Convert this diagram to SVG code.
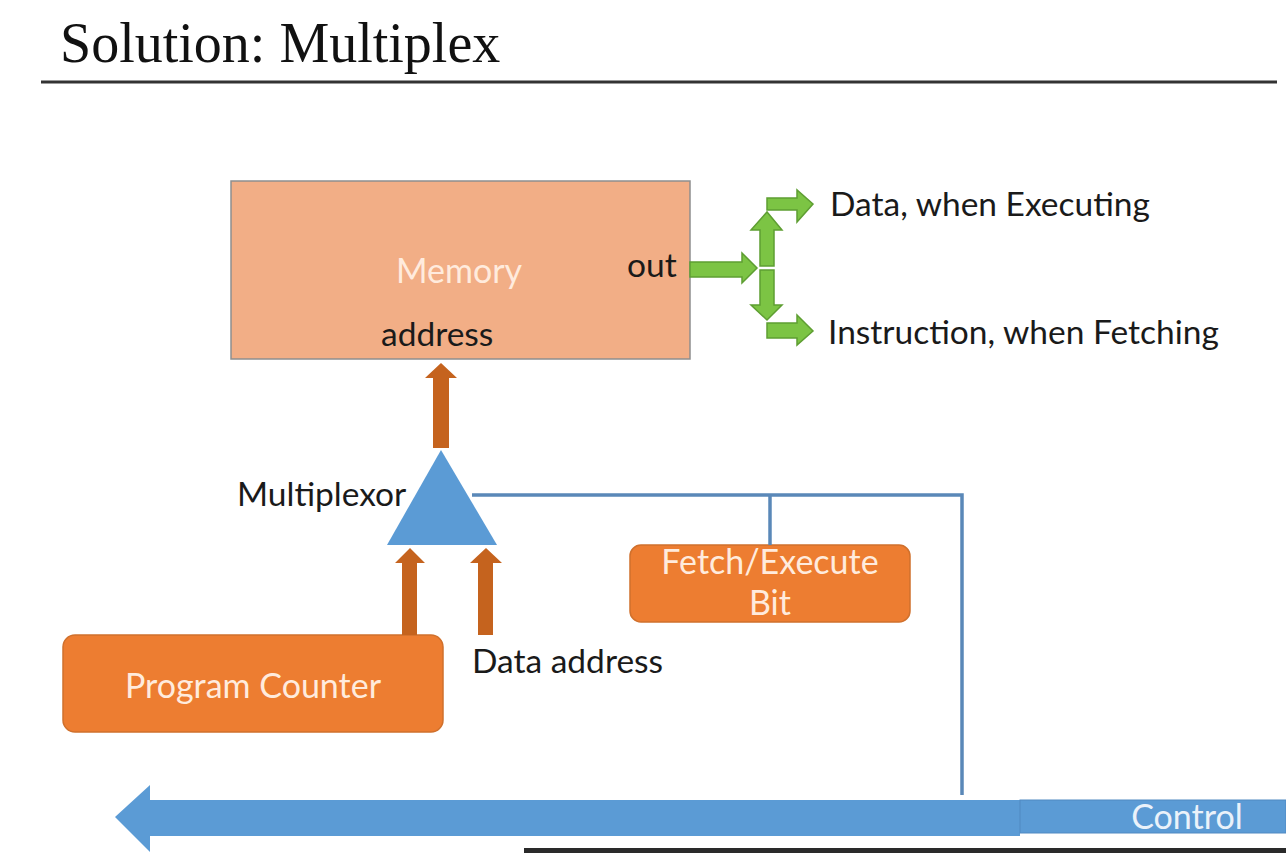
<svg xmlns="http://www.w3.org/2000/svg" width="1286" height="853" viewBox="0 0 1286 853">
<style>
.lbl{font-family:Lato,"Open Sans","Liberation Sans",sans-serif;font-size:33.5px;fill:#1a1a1a}
.wl{font-family:Lato,"Open Sans","Liberation Sans",sans-serif;font-size:34px;fill:#FFEBDD}
.obox{fill:#ED7D31;stroke:#D0702C;stroke-width:1.5}
.oarr{fill:#C5631E}
.garr{fill:#7CC444;stroke:#5E9E32;stroke-width:1.5}
.wire{fill:none;stroke:#5A88B8;stroke-width:3.5}
</style>
<rect width="1286" height="853" fill="#fff"/>
<g id="title">
<text x="60" y="62" font-family="Liberation Serif,serif" font-size="56" fill="#111">Solution: Multiplex</text>
<line x1="41" y1="82" x2="1277" y2="82" stroke="#333" stroke-width="3"/>
</g>
<g id="memory">
<rect x="231" y="181" width="459" height="178" fill="#F2AE86" stroke="#8E8E8E" stroke-width="1.5"/>
<text class="wl" x="459" y="283" text-anchor="middle" fill="#FFF3EA">Memory</text>
<text class="lbl" x="627" y="277">out</text>
<text class="lbl" x="381" y="346">address</text>
</g>
<g id="multiplexor">
<polygon points="441,450 387,545 497,545" fill="#5B9BD5"/>
<text class="lbl" x="237" y="506">Multiplexor</text>
</g>
<g id="program-counter">
<rect class="obox" x="63" y="635" width="380" height="97" rx="12"/>
<text class="wl" x="253" y="698" text-anchor="middle">Program Counter</text>
</g>
<g id="data-address">
<text class="lbl" x="472" y="673">Data address</text>
</g>
<g id="fetch-execute">
<rect class="obox" x="630" y="545" width="280" height="77" rx="11"/>
<text class="wl" x="770" y="574" text-anchor="middle" font-size="33">Fetch/Execute</text>
<text class="wl" x="770" y="615" text-anchor="middle" font-size="33">Bit</text>
</g>
<g id="outputs">
<text class="lbl" x="830" y="216">Data, when Executing</text>
<text class="lbl" x="828" y="344">Instruction, when Fetching</text>
</g>
<g id="control">
<polygon points="115,817 150,785 150,800 1020,800 1020,836 150,836 150,852" fill="#5B9BD5"/>
<rect x="1020" y="800" width="266" height="33" fill="#5B9BD5" stroke="#5089C2" stroke-width="1"/>
<text x="1187" y="829" text-anchor="middle" font-family="Lato,'Open Sans','Liberation Sans',sans-serif" font-size="34" fill="#EAF2FA">Control</text>
</g>
<g id="connectors">
<polygon class="oarr" points="433,448 433,378 425,378 441,363 457,378 449,378 449,448"/>
<polygon class="oarr" points="402,635 402,563 395,563 410,548 425,563 417,563 417,635"/>
<polygon class="oarr" points="478,635 478,563 470,563 486,548 502,563 493,563 493,635"/>
<polygon class="garr" points="690,262 742,262 742,253 757,268 742,283 742,277 690,277"/>
<polygon class="garr" points="760,266 760,230 751,230 767,212 782,230 774,230 774,266"/>
<polygon class="garr" points="760,270 760,305 751,305 767,320 782,305 774,305 774,270"/>
<polygon class="garr" points="767,198 797,198 797,190 813,204 797,222 797,210 767,210"/>
<polygon class="garr" points="767,323 797,323 797,315 813,331 797,345 797,338 767,338"/>
<polyline class="wire" points="472,495 962,495 962,795"/>
<line class="wire" x1="770" y1="545" x2="770" y2="495"/>
</g>
<rect x="524" y="848" width="762" height="5" fill="#2a2a2a"/>
</svg>
